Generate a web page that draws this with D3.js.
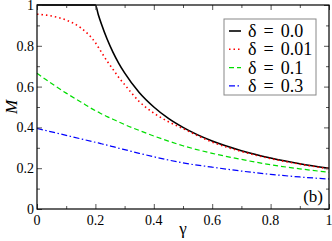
<!DOCTYPE html>
<html>
<head>
<meta charset="utf-8">
<script src="https://cdn.jsdelivr.net/npm/d3@7"></script>
<style>
  body { margin: 0; background: #fff; }
  svg text { font-family: "Liberation Serif", "DejaVu Serif", "Times New Roman", serif; }
</style>
</head>
<body>
<svg id="chart" width="332" height="241"></svg>
<script>
// values
var gamma = [0, 0.05, 0.1, 0.15, 0.2, 0.21, 0.22, 0.24, 0.26, 0.28, 0.3, 0.35, 0.4, 0.45, 0.5, 0.6, 0.7, 0.8, 0.9, 1.0];
var m00  = [1, 1, 1, 1, 1, 0.952, 0.909, 0.833, 0.769, 0.714, 0.667, 0.571, 0.5, 0.444, 0.4, 0.333, 0.286, 0.25, 0.222, 0.2];
var m001 = [0.955, 0.946, 0.926, 0.888, 0.815, 0.793, 0.77, 0.725, 0.685, 0.645, 0.61, 0.527, 0.47, 0.428, 0.394, 0.328, 0.282, 0.247, 0.22, 0.197];
var m01  = [0.665, 0.615, 0.568, 0.525, 0.482, 0.475, 0.467, 0.453, 0.44, 0.427, 0.414, 0.385, 0.358, 0.333, 0.31, 0.273, 0.243, 0.217, 0.197, 0.18];
var m03  = [0.395, 0.378, 0.361, 0.344, 0.327, 0.324, 0.32, 0.313, 0.306, 0.298, 0.291, 0.273, 0.256, 0.24, 0.226, 0.205, 0.186, 0.17, 0.157, 0.147];

var deltaLabels = ['δ = 0.0', 'δ = 0.01', 'δ = 0.1', 'δ = 0.3'];
var seriesValues = [m00, m001, m01, m03];
var colors = ['#000000', '#ff0000', '#00dd00', '#0000ff'];
var dashes = [null, '1.5,3', '5,3', '6,2.5,1.5,2.5'];
var widths = [1.6, 1.6, 1.2, 1.2];

var xTicks = [0, 0.2, 0.4, 0.6, 0.8, 1];
var yTicks = [0, 0.2, 0.4, 0.6, 0.8, 1];
var tickLabels = ['0', '0.2', '0.4', '0.6', '0.8', '1'];

var margin = { left: 37, right: 3, top: 5, bottom: 32 };
var width = 332 - margin.left - margin.right;
var height = 241 - margin.top - margin.bottom;

var svg = d3.select('#chart');
var g = svg.append('g')
  .attr('transform', 'translate(' + margin.left + ',' + margin.top + ')');

var x = d3.scaleLinear().domain([0, 1]).range([0, width]);
var y = d3.scaleLinear().domain([0, 1]).range([height, 0]);

// curves
var line = d3.line()
  .x(function(d) { return x(d[0]); })
  .y(function(d) { return y(d[1]); })
  .curve(d3.curveMonotoneX);

seriesValues.forEach(function(vals, i) {
  var pts = gamma.map(function(gv, j) { return [gv, vals[j]]; });
  g.append('path')
    .datum(pts)
    .attr('fill', 'none')
    .attr('stroke', colors[i])
    .attr('stroke-width', widths[i])
    .attr('stroke-dasharray', dashes[i])
    .attr('d', line);
});

// inward ticks on all four sides
var minor = d3.range(0.1, 1, 0.2);
function ticks(axis, scale, vals, size) {
  return axis(scale).tickValues(vals).tickSize(size).tickFormat('');
}
g.append('g').attr('transform', 'translate(0,' + height + ')').call(ticks(d3.axisTop, x, xTicks, 5));
g.append('g').attr('transform', 'translate(0,' + height + ')').call(ticks(d3.axisTop, x, minor, 3));
g.append('g').call(ticks(d3.axisBottom, x, xTicks, 5));
g.append('g').call(ticks(d3.axisBottom, x, minor, 3));
g.append('g').call(ticks(d3.axisRight, y, yTicks, 5));
g.append('g').call(ticks(d3.axisRight, y, minor, 3));
g.append('g').attr('transform', 'translate(' + width + ',0)').call(ticks(d3.axisLeft, y, yTicks, 5));
g.append('g').attr('transform', 'translate(' + width + ',0)').call(ticks(d3.axisLeft, y, minor, 3));
g.selectAll('.domain').remove();
g.selectAll('.tick line').attr('stroke', '#555');

g.append('rect')
  .attr('width', width)
  .attr('height', height)
  .attr('fill', 'none')
  .attr('stroke', '#000')
  .attr('stroke-width', 1.2);

// tick labels
g.selectAll('.xlab')
  .data(xTicks)
  .enter()
  .append('text')
  .attr('x', function(d) { return x(d); })
  .attr('y', height + 16)
  .attr('text-anchor', 'middle')
  .attr('font-size', 14)
  .text(function(d, i) { return tickLabels[i]; });

g.selectAll('.ylab')
  .data(yTicks)
  .enter()
  .append('text')
  .attr('x', -3)
  .attr('y', function(d) { return y(d) + 5; })
  .attr('text-anchor', 'end')
  .attr('font-size', 14)
  .text(function(d, i) { return tickLabels[i]; });

// axis titles
svg.append('text')
  .attr('transform', 'translate(17,107) rotate(-90)')
  .attr('text-anchor', 'middle')
  .attr('font-size', 17)
  .attr('font-style', 'italic')
  .text('M');

svg.append('text')
  .attr('x', margin.left + width / 2)
  .attr('y', 234)
  .attr('text-anchor', 'middle')
  .attr('font-size', 17)
  .text('γ');

g.append('text')
  .attr('x', width - 6)
  .attr('y', height - 7)
  .attr('text-anchor', 'end')
  .attr('font-size', 17)
  .text('(b)');

// legend
var legend = svg.append('g').attr('transform', 'translate(224,19)');
legend.append('rect')
  .attr('width', 92)
  .attr('height', 76)
  .attr('fill', '#fff')
  .attr('stroke', '#888')
  .attr('stroke-width', 1);

deltaLabels.forEach(function(lab, i) {
  var yy = 12 + i * 18.3;
  legend.append('line')
    .attr('x1', 5).attr('x2', 17)
    .attr('y1', yy).attr('y2', yy)
    .attr('stroke', colors[i])
    .attr('stroke-width', widths[i])
    .attr('stroke-dasharray', dashes[i]);
  legend.append('text')
    .attr('x', 24)
    .attr('y', yy + 6)
    .attr('font-size', 18)
    .attr('word-spacing', 2.5)
    .text(lab);
});
</script>
</body>
</html>
